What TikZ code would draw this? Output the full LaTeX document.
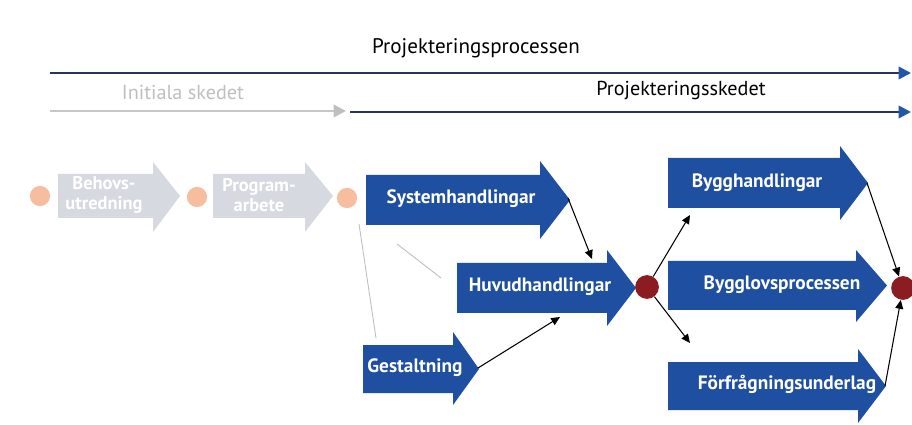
\documentclass[tikz,border=0pt]{standalone}
\usepackage{fontspec}
\setmainfont{PT Sans}
\usetikzlibrary{arrows.meta}
\definecolor{bblue}{HTML}{1E4FA0}
\definecolor{lgray}{HTML}{D6D9DF}
\definecolor{orng}{HTML}{F6BE9E}
\definecolor{dred}{HTML}{8A1C22}
\definecolor{lineblue}{HTML}{26365A}
\definecolor{tipblue}{HTML}{2355A8}
\newcommand\blockarrow[8]{%
  \fill[#1] (#2,#5) -- (#3,#5) -- (#3,#7) -- (#4,{(#5+#6)/2}) -- (#3,#8) -- (#3,#6) -- (#2,#6) -- cycle;}
\tikzset{
  lbl/.style={text=white, font=\bfseries\fontsize{11}{12}\selectfont, inner sep=0pt},
  glbl/.style={text=white, font=\bfseries\fontsize{10.5}{11}\selectfont, align=center, inner sep=0pt},
  ttl/.style={font=\fontsize{11.5}{12}\selectfont, inner sep=0pt},
  conn/.style={draw=black, line width=0.6pt, -{Triangle[length=5pt,width=4.5pt]}},
  faint/.style={draw=black!25, line width=0.5pt},
  orangedot/.style={circle, fill=orng, minimum size=11.5pt, inner sep=0pt},
  reddot/.style={circle, fill=dred, minimum size=13.5pt, inner sep=0pt},
  tline/.style={line width=1.4pt, draw=lineblue, -{Triangle[length=7pt,width=7pt,color=tipblue]}},
}
\begin{document}
\begin{tikzpicture}[x=0.02cm,y=-0.02cm]
\useasboundingbox (0,0) rectangle (912,425);
\fill[white] (0,0) rectangle (912,425);
% timeline
\node[ttl, font=\fontsize{12}{13}\selectfont] (pp) at (476,48) {Projekteringsprocessen};
\coordinate (a1) at (50,73);
\coordinate (a2) at (911,73);
\draw[tline] (a1) -- (a2);
\node[ttl, text=black!25] (is) at (183,92) {Initiala skedet};
\node[ttl] (ps) at (681,90) {Projekteringsskedet};
\coordinate (b1) at (50,111);
\coordinate (b2) at (346,111);
\coordinate (b3) at (350,112);
\coordinate (b4) at (911,112);
\draw[line width=1.3pt, draw=black!22, -{Triangle[length=7pt,width=7pt,color=black!25]}] (b1) -- (b2);
\draw[tline] (b3) -- (b4);
% initial stage
\node[orangedot] (c1) at (40,196) {};
\blockarrow{lgray}{58}{153}{180}{174}{218}{162}{232}
\node[glbl] (beh) at (104,195) {Behovs-\\utredning};
\node[orangedot] (c2) at (197,197) {};
\blockarrow{lgray}{213}{305}{333}{174}{218}{162}{232}
\node[glbl] (prog) at (259,195) {Program-\\arbete};
\node[orangedot] (c3) at (347,198) {};
% faint lines
\coordinate (f1) at (359,224);
\coordinate (f2) at (376,338);
\coordinate (f3) at (397,244);
\coordinate (f4) at (441,278);
\draw[faint] (f1) -- (f2);
\draw[faint] (f3) -- (f4);
% blue arrows
\blockarrow{bblue}{366}{540}{570}{175}{225}{161}{239}
\node[lbl] (sys) at (461,199) {Systemhandlingar};
\coordinate (sys-tip) at (568,198);
\blockarrow{bblue}{457}{607}{636}{263}{313}{250}{326}
\node[lbl] (huv) at (540,287) {Huvudhandlingar};
\coordinate (huv-top) at (592,259);
\coordinate (huv-bot) at (560,317);
\blockarrow{bblue}{363}{453}{479}{345}{393}{332}{405}
\node[lbl] (gest) at (415,368) {Gestaltning};
\coordinate (gest-tip) at (478,368);
\node[reddot] (r1) at (647,287) {};
\blockarrow{bblue}{668}{840}{868}{158}{208}{146}{220}
\node[lbl] (bygg) at (757,183) {Bygghandlingar};
\coordinate (bygg-tip) at (867,183);
\coordinate (bygg-in) at (690,215);
\blockarrow{bblue}{668}{856}{887}{261}{310}{250}{322}
\node[lbl] (blov) at (782,285) {Bygglovsprocessen};
\blockarrow{bblue}{668}{858}{886}{362}{410}{349}{423}
\node[lbl] (forf) at (787,384) {Förfrågningsunderlag};
\coordinate (forf-tip) at (885,386);
\coordinate (forf-in) at (690,343);
\node[reddot] (r2) at (903,288) {};
% connectors
\draw[conn] (sys-tip) -- (huv-top);
\draw[conn] (gest-tip) -- (huv-bot);
\draw[conn] (r1) -- (bygg-in);
\draw[conn] (r1) -- (forf-in);
\draw[conn] (bygg-tip) -- (r2);
\draw[conn] (forf-tip) -- (r2);
\end{tikzpicture}
\end{document}
